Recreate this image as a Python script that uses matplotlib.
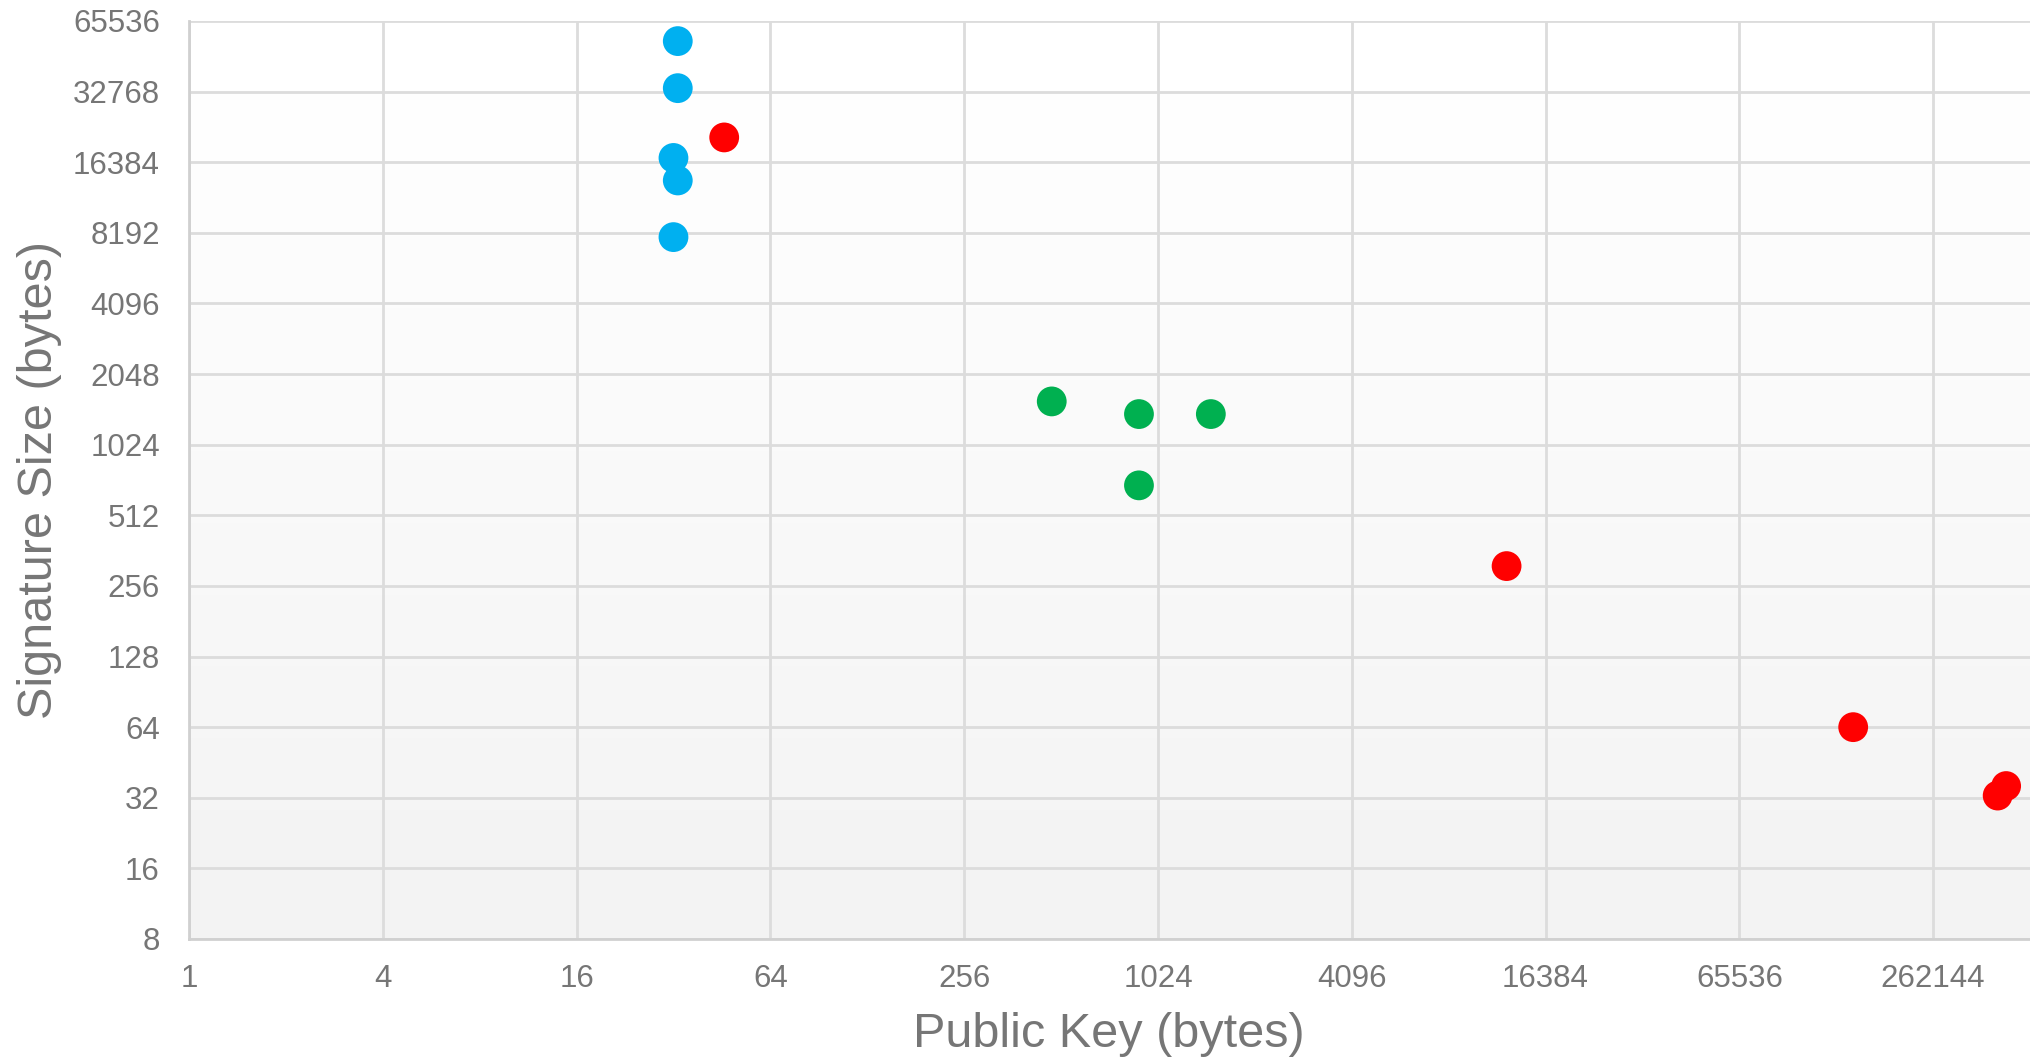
import numpy as np
import matplotlib as mpl
mpl.use("Agg")
import matplotlib.pyplot as plt
from matplotlib.ticker import FixedLocator, FixedFormatter

mpl.rcParams['font.family'] = ['Liberation Sans', 'DejaVu Sans']

# ---------------------------------------------------------
# Data: public key size vs signature size (bytes)
# ---------------------------------------------------------
blue_pk = [33, 33, 32, 33, 32]
blue_sig = [53800, 33900, 17088, 13700, 7856]

green_pk = [479, 894, 1495, 894]
green_sig = [1566, 1383, 1383, 687]

red_pk = [46, 12400, 148000, 416000, 442000]
red_sig = [20900, 311, 64, 32.7, 35.9]

x_ticks = [1, 4, 16, 64, 256, 1024, 4096, 16384, 65536, 262144]
y_ticks = [8, 16, 32, 64, 128, 256, 512, 1024, 2048, 4096, 8192, 16384, 32768, 65536]

C_BLUE = "#00B0F0"
C_GREEN = "#00B050"
C_RED = "#FF0000"
TXT = "#767676"
GRID = "#DCDCDC"

W, H = 2030, 1060
fig = plt.figure(figsize=(W / 100, H / 100), dpi=100)
ax = fig.add_axes([189 / W, 1 - 939 / H, 1 - 189 / W, 918 / H])

# soft vertical gradient behind the plot
grad = np.linspace(0.95, 1.0, 256).reshape(-1, 1)
ax.imshow(grad, extent=[0, 1, 0, 1], transform=ax.transAxes, cmap="gray",
          vmin=0, vmax=1, aspect="auto", origin="lower", zorder=0)

ax.set_xscale("log", base=2)
ax.set_yscale("log", base=2)
ax.set_xlim(1, 2 ** 19)
ax.set_ylim(8, 65536)

for xs, ys, c in [(blue_pk, blue_sig, C_BLUE), (green_pk, green_sig, C_GREEN),
                  (red_pk, red_sig, C_RED)]:
    ax.scatter(xs, ys, s=460, color=c, edgecolors="none", zorder=3)

ax.xaxis.set_major_locator(FixedLocator(x_ticks))
ax.xaxis.set_major_formatter(FixedFormatter([str(v) for v in x_ticks]))
ax.yaxis.set_major_locator(FixedLocator(y_ticks))
ax.yaxis.set_major_formatter(FixedFormatter([str(v) for v in y_ticks]))
ax.xaxis.set_minor_locator(FixedLocator([]))
ax.yaxis.set_minor_locator(FixedLocator([]))

ax.tick_params(axis="both", length=0, labelsize=22.5, labelcolor=TXT)
ax.tick_params(axis="x", pad=18)
ax.tick_params(axis="y", pad=21)

ax.grid(True, color=GRID, linewidth=2.0, zorder=1)
ax.set_axisbelow(True)

for side in ["top", "right"]:
    ax.spines[side].set_visible(False)
for side in ["left", "bottom"]:
    ax.spines[side].set_color("#D0D0D0")
    ax.spines[side].set_linewidth(2.0)

# axis titles placed in figure pixels
fig.text(1109 / W, 1 - 1047 / H, "Public Key (bytes)", fontsize=35,
         color=TXT, ha="center", va="baseline")
fig.text(40 / W, 0.5 * (1 - 939 / H + 1 - 21 / H), "Signature Size (bytes)",
         fontsize=35, color=TXT, ha="center", va="center", rotation=90)

fig.savefig("out.png", dpi=100)
plt.close(fig)
